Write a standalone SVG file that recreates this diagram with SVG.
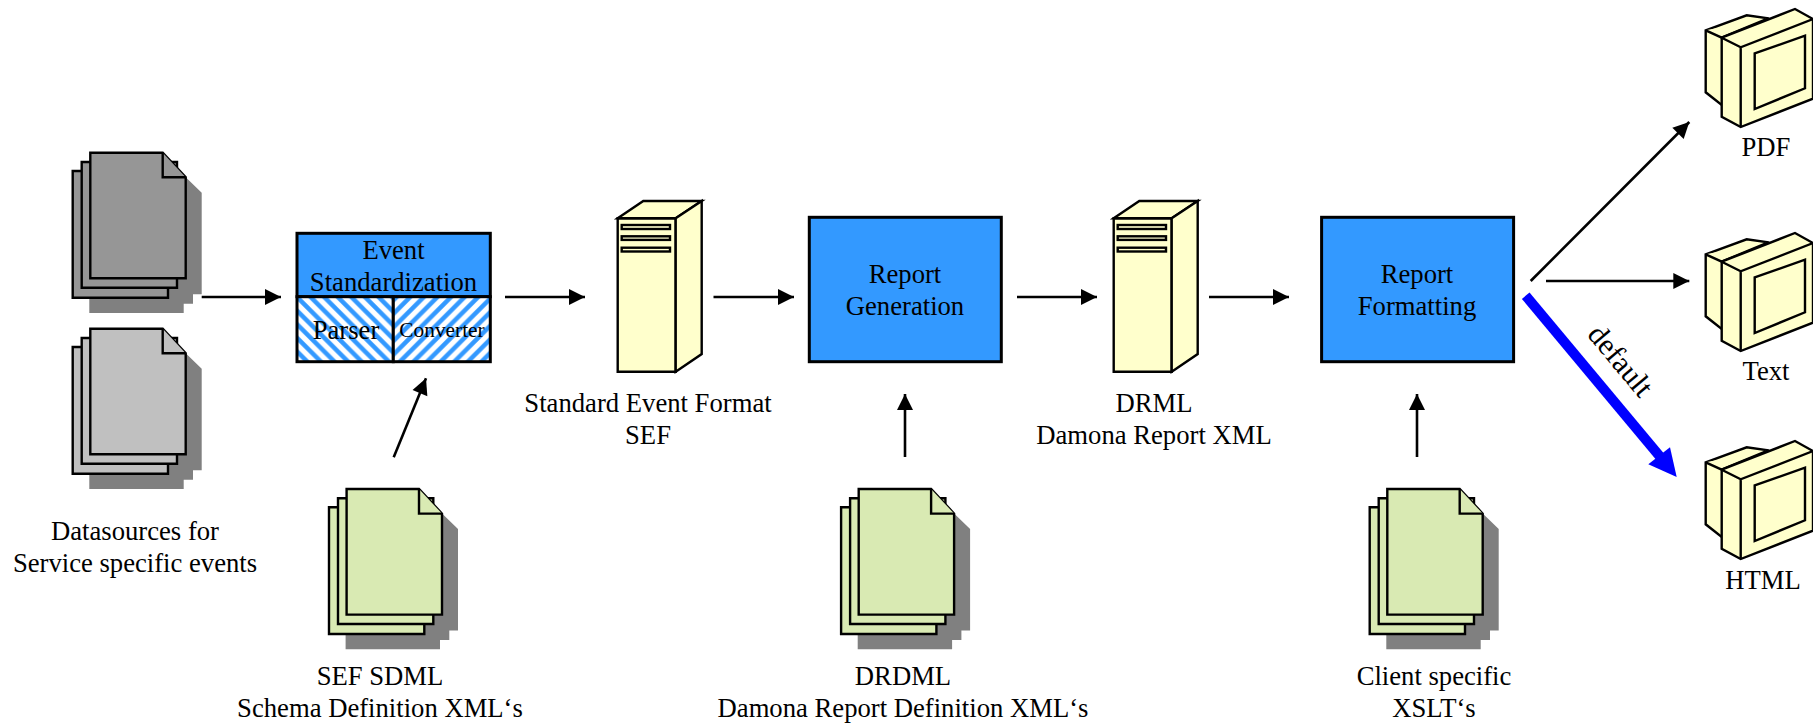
<svg xmlns="http://www.w3.org/2000/svg" xmlns:xlink="http://www.w3.org/1999/xlink" width="1813" height="723" viewBox="0 0 1813 723">
<style>
text{font-family:"Liberation Serif","Times New Roman",serif;font-size:26.67px;fill:#000;text-anchor:middle}
.o{stroke:#000;stroke-width:2.4;stroke-linejoin:miter}
.c{fill:none;stroke:#000;stroke-width:2.6}
.box{fill:#3399ff;stroke:#000;stroke-width:3}
.y{fill:#ffffcc}
</style>
<defs>
<marker id="ah" markerUnits="userSpaceOnUse" markerWidth="17" markerHeight="17" refX="16" refY="8" orient="auto" overflow="visible"><path d="M0,0L16,8L0,16Z" fill="#000"/></marker>
<pattern id="hl" patternUnits="userSpaceOnUse" width="13.6" height="13.6"><rect width="13.6" height="13.6" fill="#fff"/><path d="M-4,-4L17.6,17.6M-4,9.6L4,17.6M9.6,-4L17.6,4" stroke="#3399ff" stroke-width="4.5"/></pattern>
<pattern id="hr" patternUnits="userSpaceOnUse" width="13.6" height="13.6"><rect width="13.6" height="13.6" fill="#fff"/><path d="M17.6,-4L-4,17.6M17.6,9.6L9.6,17.6M4,-4L-4,4" stroke="#3399ff" stroke-width="4.5"/></pattern>
<g id="docs">
<path d="M89.3,313V190H185.7V177.3L201.7,192.7V294.3H193V303.7H183.7V313Z" fill="#808080"/>
<path class="o" d="M72.7,171H168V297.7H72.7Z"/>
<path class="o" d="M81.7,162H177V287.7H81.7Z"/>
<path class="o" d="M90.3,152.7H162.7L185.7,177.3V278.3H90.3Z"/>
<path class="o" d="M162.7,152.7V177.3H185.7"/>
</g>
<g id="server" class="o y">
<path d="M617.7,218.3H675.7V371.7H617.7Z"/>
<path d="M617.7,218.3L643.3,201H701.7L675.7,218.3Z"/>
<path d="M675.7,218.3L701.7,201V354L675.7,371.7Z"/>
<rect x="621.7" y="225" width="48.3" height="4"/><rect x="621.7" y="236.3" width="48.3" height="3.6"/><rect x="621.7" y="247.7" width="48.3" height="3.8"/>
</g>
<g id="monitor" class="o y">
<path d="M1705.7,30.3L1746.7,15.3L1768.3,18.3L1790,40L1721.7,105L1705.7,92.3Z"/>
<path d="M1705.7,30.3L1721.7,37.7L1768.3,18.3"/>
<path d="M1721.7,37.7L1795,9L1813,19V98.7L1740.7,127L1721.7,116.7Z"/>
<path d="M1721.7,37.7L1740.7,47.3L1813,19M1740.7,47.3V127" fill="none"/>
<path d="M1754.7,53.3L1805,35.7V88.3L1754.7,109Z"/>
</g>
</defs>

<g id="connectors">
<path class="c" marker-end="url(#ah)" d="M201.7,297H281"/>
<path class="c" marker-end="url(#ah)" d="M505,297H585"/>
<path class="c" marker-end="url(#ah)" d="M713.5,297H794"/>
<path class="c" marker-end="url(#ah)" d="M1017,297H1097"/>
<path class="c" marker-end="url(#ah)" d="M1209,297H1289"/>
<path class="c" marker-end="url(#ah)" d="M393.7,457.3L426,378.3"/>
<path class="c" marker-end="url(#ah)" d="M905,457V394"/>
<path class="c" marker-end="url(#ah)" d="M1417,457V394"/>
<path class="c" marker-end="url(#ah)" d="M1530.7,281L1689.3,122"/>
<path class="c" marker-end="url(#ah)" d="M1546,281H1689.3"/>
<path d="M1525.7,295.7L1662,459" fill="none" stroke="#0000ff" stroke-width="10"/>
<path d="M1676.7,477L1670,447.3L1648.3,464.3Z" fill="#0000ff"/>
</g>

<g id="ds1" fill="#969696"><use xlink:href="#docs"/></g>
<g id="ds2" fill="#c0c0c0"><use xlink:href="#docs" y="176"/></g>
<g id="ds-label"><text x="135" y="540">Datasources for</text><text x="135" y="572">Service specific events</text></g>

<g id="event-standardization">
<rect class="box" x="297" y="233.3" width="193.3" height="63.4"/>
<rect x="297" y="296.7" width="96.3" height="65" fill="url(#hl)" stroke="#000" stroke-width="3"/>
<rect x="393.3" y="296.7" width="97" height="65" fill="url(#hr)" stroke="#000" stroke-width="3"/>
<text x="393.5" y="259">Event</text><text x="393.5" y="291">Standardization</text>
<text x="346" y="339">Parser</text>
<text x="442" y="337" style="font-size:21.33px">Converter</text>
</g>

<g id="sef"><use xlink:href="#server"/><text x="648" y="412">Standard Event Format</text><text x="648" y="444">SEF</text></g>
<g id="report-generation"><rect class="box" x="809.3" y="217.3" width="192" height="144.4"/><text x="905" y="283">Report</text><text x="905" y="315">Generation</text></g>
<g id="drml"><use xlink:href="#server" x="496"/><text x="1154" y="412">DRML</text><text x="1154" y="444">Damona Report XML</text></g>
<g id="report-formatting"><rect class="box" x="1321.6" y="217.3" width="192" height="144.4"/><text x="1417" y="283">Report</text><text x="1417" y="315">Formatting</text></g>

<g id="sdml" fill="#d9eab3"><use xlink:href="#docs" x="256.3" y="336.3"/><text x="380" y="685">SEF SDML</text><text x="380" y="717">Schema Definition XML‘s</text></g>
<g id="drdml" fill="#d9eab3"><use xlink:href="#docs" x="768.4" y="336.3"/><text x="903" y="685">DRDML</text><text x="903" y="717">Damona Report Definition XML‘s</text></g>
<g id="xslt" fill="#d9eab3"><use xlink:href="#docs" x="1297" y="336.3"/><text x="1434" y="685">Client specific</text><text x="1434" y="717">XSLT‘s</text></g>

<g id="pdf"><use xlink:href="#monitor"/><text x="1766" y="156">PDF</text></g>
<g id="text"><use xlink:href="#monitor" y="224"/><text x="1766" y="380">Text</text></g>
<g id="html"><use xlink:href="#monitor" y="432"/><text x="1763" y="589">HTML</text></g>
<text id="default-label" transform="translate(1613,367) rotate(50)" style="font-size:30px">default</text>
</svg>
